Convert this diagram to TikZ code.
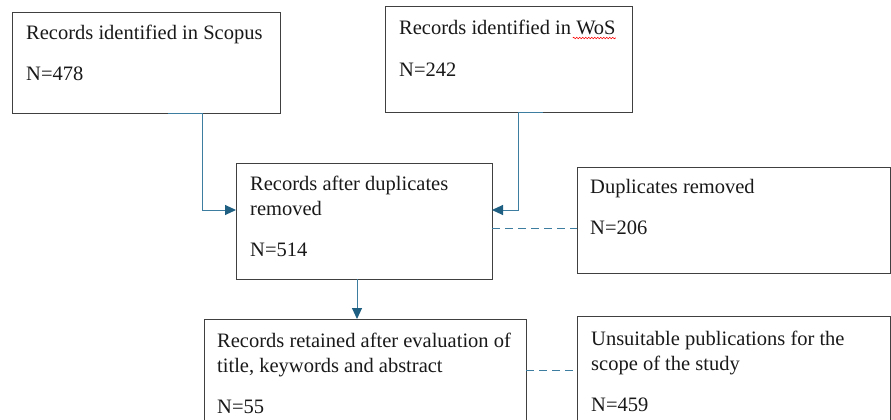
\documentclass[tikz,border=0pt]{standalone}
\usepackage{fontspec}
\setmainfont{Liberation Serif}
\usetikzlibrary{arrows.meta,calc,decorations.pathmorphing}
\definecolor{conncol}{RGB}{60,125,160}
\definecolor{tipcol}{RGB}{31,96,130}
\definecolor{boxcol}{RGB}{64,64,64}
\begin{document}
\begin{tikzpicture}[x=1pt,y=-1pt,
  box/.style={draw=boxcol,line width=1pt,anchor=north west,inner sep=0pt,outer sep=0pt},
  txt/.style={anchor=base west,inner sep=0pt,font=\fontsize{20.5}{25}\selectfont,text=black!90},
  conn/.style={draw=conncol,line width=1pt},
  arr/.style={conn,-{Triangle[length=11pt,width=10pt,color=tipcol,fill=tipcol]}},
  dashconn/.style={conn,dash pattern=on 8pt off 5pt}]
\useasboundingbox (0,0) rectangle (891,420);
\clip (0,0) rectangle (891,420);
\fill[white] (0,0) rectangle (891,420);
% boxes
\node[box,minimum width=268pt,minimum height=100pt] (b1) at (12,13) {};
\node[box,minimum width=247pt,minimum height=105pt] (b2) at (385,7) {};
\node[box,minimum width=256pt,minimum height=116pt] (b3) at (236,163) {};
\node[box,minimum width=313pt,minimum height=106pt] (b4) at (577,167) {};
\node[box,minimum width=322pt,minimum height=120pt] (b5) at (204,319) {};
\node[box,minimum width=313pt,minimum height=120pt] (b6) at (577,316) {};
% texts
\node[txt] (t1a) at (26,40) {Records identified in Scopus};
\node[txt] (t1b) at (26,81) {N=478};
\node[txt] (t2a) at (399,35) {Records identified in WoS};
\node[txt] (t2b) at (399,76) {N=242};
\node[txt] (t3a) at (250,190) {Records after duplicates};
\node[txt] (t3b) at (250,215) {removed};
\node[txt] (t3c) at (250,256) {N=514};
\node[txt] (t4a) at (590,193) {Duplicates removed};
\node[txt] (t4b) at (590,234) {N=206};
\node[txt] (t5a) at (217,347) {Records retained after evaluation of};
\node[txt] (t5b) at (217,372) {title, keywords and abstract};
\node[txt] (t5c) at (217,413) {N=55};
\node[txt] (t6a) at (591,345) {Unsuitable publications for the};
\node[txt] (t6b) at (591,370) {scope of the study};
\node[txt] (t6c) at (591,411) {N=459};
% spell-check squiggle under WoS
\draw[red,line width=0.6pt,decorate,decoration={snake,amplitude=0.8pt,segment length=3pt}]
  (t2a.base east) ++(-43,3) -- ++(43,0);
% connectors
\coordinate (c1) at ($(b1.south west)+(156,0)$);
\draw[arr] (c1) -- ++(34,0) |- ([yshift=11pt]b3.west);
\coordinate (c2) at ($(b2.south west)+(158,0)$);
\draw[arr] (c2) -- ++(-25,0) |- ([yshift=11pt]b3.east);
\coordinate (d1) at ([yshift=-7pt]b3.east);
\draw[dashconn] (d1) -- (d1 -| b4.west);
\coordinate (a3) at ([xshift=-7pt]b3.south);
\draw[arr] (a3) -- (a3 |- b5.north);
\coordinate (d2) at ([yshift=9pt]b5.east);
\draw[dashconn] (d2) -- (d2 -| b6.west);
\end{tikzpicture}
\end{document}
